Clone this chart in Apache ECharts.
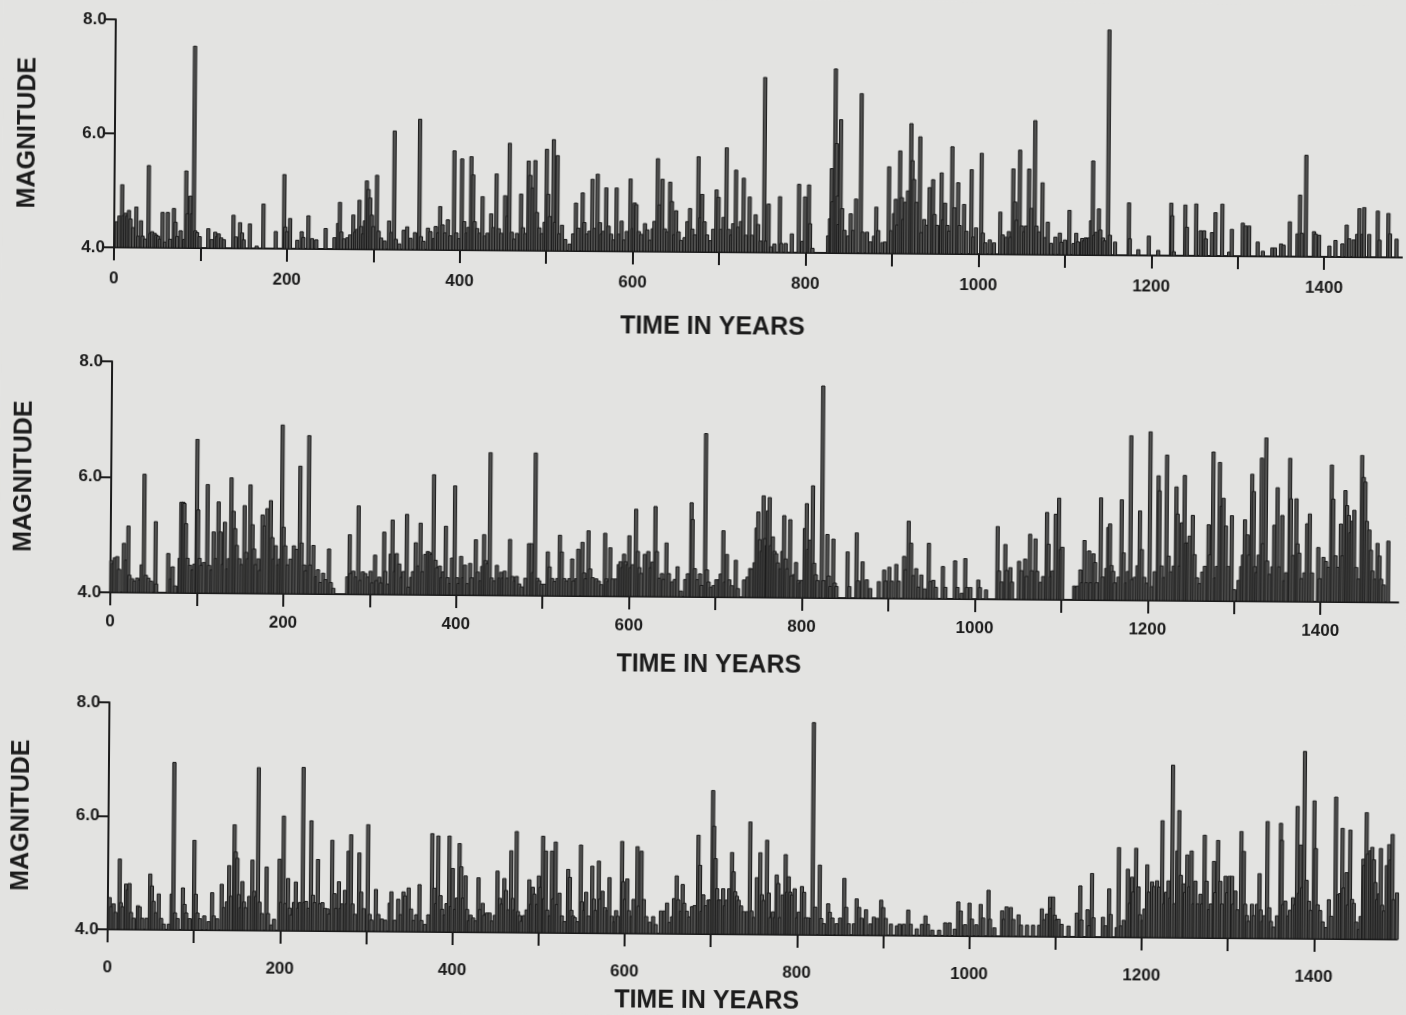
<!DOCTYPE html>
<html>
<head>
<meta charset="utf-8">
<script src="https://cdn.jsdelivr.net/npm/echarts@6/dist/echarts.min.js"></script>
<style>
  html, body { margin: 0; padding: 0; background: #e3e3e1; overflow: hidden; }
  #chart { width: 1406px; height: 1015px; transform: rotate(0.45deg); transform-origin: 50% 50%; }
</style>
</head>
<body>
<div id="chart"></div>
<script>
// Tick positions (years) and magnitude ticks
const xTickValues = [0, 100, 200, 300, 400, 500, 600, 700, 800, 900, 1000, 1100, 1200, 1300, 1400];
const xLabelValues = [0, 200, 400, 600, 800, 1000, 1200, 1400];
const magMin = 4.0;
const magMax = 8.0;
const magStep = 2.0;
const xMax = [1490, 1490, 1496];

// Simulated catalogue 1: [year, magnitude]
const quakesTop = [
  [3,4.45],[6,4.55],[9,5.1],[11,4.56],[13,4.6],[15,4.55],[17,4.65],[19,4.5],[22,4.35],[25.5,4.71],[28,4.2],[31,4.47],[33,4.2],[36,4.15],[39.7,5.44],[42,4.25],[44,4.28],[47,4.25],[49,4.22],[51,4.2],[53,4.15],[56,4.62],[59,4.1],[62,4.62],[65,4.15],[69,4.69],[71,4.45],[73,4.2],[77,4.3],[81,4.15],[83,5.35],[85,4.6],[88,4.91],[90,4.6],[92,7.54],[94,4.3],[96,4.27],[99,4.2],
  [109,4.34],[113,4.15],[117,4.28],[119,4.2],[121,4.25],[124,4.18],[127,4.15],[138,4.58],[141,4.2],[145.6,4.45],[148,4.27],[150,4.15],[157,4.43],[165,4.04],[172.6,4.78],[187,4.3],[196.5,5.3],[198,4.38],[200,4.3],[203.5,4.53],
  [212,4.15],[217,4.3],[219,4.2],[224.7,4.58],[229,4.18],[234,4.16],[244.7,4.36],[255,4.2],[259,4.45],[261,4.82],[263,4.3],[266,4.18],[270,4.2],[273,4.25],[276.6,4.6],[279,4.3],[281,4.35],[283.6,4.86],[286,4.4],[288,4.27],[290,4.5],[292,5.2],[294,5.05],[296,4.9],[298,4.6],[300,4.4],
  [303.7,5.3],[306,4.32],[309,4.2],[313,4.15],[318,4.5],[321,4.3],[323.7,6.08],[326,4.18],[330,4.1],[335,4.34],[339,4.4],[343,4.2],[348,4.3],[353,6.29],[355,4.23],[358,4.15],[363,4.38],[366,4.32],[370,4.2],[372,4.41],[375,4.3],[377,4.76],[380,4.44],[383,4.3],[386,4.53],[389,4.25],[393,5.74],[396,4.3],[399,4.2],
  [402,5.6],[405,4.5],[408,4.3],[410,4.4],[412.7,5.64],[415,5.32],[417,4.5],[420,4.38],[423,4.3],[426,4.94],[429,4.25],[432,4.3],[436,4.64],[439,4.4],[442,5.34],[445,4.38],[448,4.3],[452,4.96],[455,4.6],[457,5.88],[460,4.32],[463,4.2],[466,4.3],[470.5,4.99],[473,4.4],[476,4.3],[479,5.57],[481,5.32],[484,5.1],[486.7,5.58],[489,4.67],[492,4.4],[495,4.3],[498,4.5],
  [500,5.78],[502,4.99],[504,4.6],[507.9,5.95],[510,4.5],[512.5,5.67],[515,4.3],[518,4.45],[522,4.2],[527,4.12],[531,4.3],[534,4.84],[537,4.4],[541.8,5.02],[544,4.5],[547,4.3],[550,4.35],[553,5.26],[556,4.4],[559,5.35],[562,4.5],[564,4.3],[566,4.35],[569,5.11],[572,4.44],[575,4.3],[578,4.2],[581,5.11],[584,4.3],[587,4.53],[590,4.2],[593,4.35],[597,5.27],
  [600,4.4],[602,4.85],[604,4.82],[607,4.35],[610,4.3],[614,4.49],[617,4.38],[620,4.2],[623,4.4],[625,4.53],[628.5,5.63],[631,4.82],[634,5.27],[637,4.4],[640,4.35],[642.8,5.22],[645,4.88],[648,4.3],[650,4.72],[653,4.35],[656,4.2],[660,4.25],[663,4.53],[666,4.76],[669,4.4],[672,4.3],[675.5,5.67],[678,4.6],[680,5.01],[683,4.53],[686,4.3],[690,4.2],[693,4.4],[696.6,5.09],[699,4.96],
  [702,4.4],[705,4.61],[708,5.83],[711,4.4],[714,4.3],[716,4.5],[719,5.44],[722,4.44],[725,4.54],[728,5.3],[731,4.3],[735,4.97],[738,4.3],[742,4.66],[745,4.49],[748,4.2],[751.8,7.07],[754,4.2],[757,4.85],[760,4.1],[764,4.15],[770,4.98],[772,4.16],[777,4.16],[784,4.33],[792,5.2],[796,4.2],[799,4.98],
  [803.5,5.19],[805,4.51],[808,4.08],[826,4.3],[828,4.6],[829.7,5.48],[831,4.9],[833.5,7.23],[835,5.92],[837,5.0],[838,4.5],[840,6.34],[842,4.78],[845,4.4],[849,4.3],[852,4.69],[855,4.4],[858,4.95],[863.6,6.8],[866,4.37],[871,4.37],[875,4.2],[879,4.3],[881.5,4.81],[884,4.4],[889,4.19],[892,4.2],[896,5.52],[899,4.4],
  [902,4.7],[904,4.95],[906,4.5],[908.7,5.8],[911,4.98],[913,4.6],[915,4.9],[918,5.1],[921.4,6.28],[923,5.63],[925,5.3],[928,4.9],[931.8,6.05],[934,4.37],[937,4.6],[940,4.5],[943,5.16],[947,5.3],[949,4.69],[952,4.5],[956.8,5.42],[959,4.6],[961,4.89],[964,4.5],[966,4.4],[969,5.88],[972,4.81],[976,5.25],[978,4.5],[983,4.87],[986,4.4],[991.5,5.48],[994,4.3],[997,4.46],
  [1003,5.77],[1005,4.37],[1008,4.2],[1013,4.25],[1018,4.2],[1025,4.74],[1028,4.34],[1032,4.3],[1035,4.4],[1037,4.3],[1039.7,5.5],[1042,4.92],[1044,4.6],[1047.4,5.83],[1050,4.5],[1053,4.4],[1055,4.5],[1058,5.5],[1061,4.81],[1064.7,6.35],[1067,4.5],[1070,4.4],[1073.6,5.26],[1077,4.3],[1080,4.57],[1084,4.2],[1089,4.31],[1094,4.38],[1096,4.22],
  [1100,4.26],[1105,4.78],[1110,4.2],[1113,4.38],[1115,4.23],[1120,4.29],[1122,4.25],[1124,4.3],[1126,4.29],[1128,4.3],[1130,4.6],[1132,5.65],[1134,4.35],[1136,4.4],[1139,4.81],[1141,4.44],[1144,4.3],[1146,4.25],[1149.6,7.95],[1152,4.35],[1158,4.23],[1173.8,4.92],[1175,4.29],[1185,4.1],[1197,4.34],
  [1208,4.09],[1222.7,4.92],[1224,4.7],[1226,4.07],[1239,4.89],[1241,4.5],[1251.6,4.91],[1257,4.44],[1261,4.44],[1263,4.3],[1270,4.41],[1274,4.76],[1281.8,4.91],[1290,4.07],[1293,4.47],
  [1305.6,4.58],[1309,4.53],[1313,4.53],[1323,4.25],[1329,4.09],[1340,4.15],[1343,4.15],[1350,4.22],[1353,4.2],[1360,4.61],[1369,4.4],[1371.6,5.08],[1374,4.41],[1378.5,5.78],[1388,4.44],[1390,4.4],[1394,4.38],
  [1406,4.19],[1413,4.29],[1421,4.23],[1425.8,4.56],[1429,4.32],[1434,4.3],[1438,4.4],[1440.5,4.85],[1444,4.4],[1446,4.87],[1452,4.4],[1461.7,4.81],[1464,4.3],[1474,4.77],[1476,4.41],[1483.6,4.32]
];

// Simulated catalogue 2
const quakesMiddle = [
  [1,4.55],[3,4.5],[5,4.6],[7.7,4.62],[10,4.4],[15.4,4.85],[18,4.56],[20.4,5.15],[22,4.3],[25,4.24],[28,4.2],[31,4.25],[34,4.22],[36,4.48],[38.6,6.05],[41,4.3],[44,4.25],[47,4.2],[52,5.23],[53,4.15],[66.7,4.68],[70,4.24],[72,4.45],[75,4.12],[80,4.6],[81.5,5.57],[83.7,5.57],[85,5.55],[87,5.2],[89,4.6],[92,4.48],[95,4.4],[97,4.5],[99.5,6.66],
  [101,5.44],[103,4.6],[105,4.48],[108,4.53],[111.8,5.88],[114,4.48],[117,4.4],[119,5.06],[122,4.6],[124.6,5.58],[127,5.06],[130,4.5],[132,5.23],[135,4.42],[137,4.6],[139.3,6.0],[142,5.42],[144,5.12],[146,4.83],[149,4.6],[152,4.5],[154.7,5.52],[157,4.71],[159,4.6],[161.3,5.88],[164,5.19],[166,4.77],[168,4.5],[171,4.6],[173,4.4],[175.5,5.36],[178,5.17],[181,5.47],[185,5.61],[187,4.97],[189,4.6],[191,4.83],[194,4.5],[196,4.6],[198,6.92],
  [200,5.15],[202,4.83],[205,4.5],[208,4.6],[212,4.83],[215,4.77],[218.8,6.21],[221,4.88],[224,4.5],[226,4.4],[228.8,6.74],[231,4.5],[234.5,4.84],[238,4.3],[240,4.42],[243,4.2],[246,4.36],[249,4.25],[252.7,4.78],[255,4.2],[258,4.1],[274,4.3],[276.6,5.03],[278,4.36],[281,4.4],[284,4.3],[286.6,5.53],[289,4.24],[292,4.39],[295,4.36],[298,4.3],
  [301,4.4],[303,4.2],[306,4.68],[308,4.24],[311,4.3],[313,4.2],[316.4,5.08],[318,4.4],[321,4.18],[324,4.7],[326,5.29],[329,4.4],[331,4.71],[334,4.53],[337,4.3],[339,4.4],[342.6,5.39],[345,4.13],[348,4.3],[350,4.4],[353,4.9],[356,4.5],[358.4,5.24],[361,4.4],[364,4.7],[367,4.75],[369,4.73],[371,4.7],[373.5,6.08],[376,4.6],[378,4.47],[381,4.5],[383,4.3],[385,4.4],[387.7,5.19],[390,4.3],[393,4.2],[395,4.64],[398,5.89],
  [401,4.3],[403,4.2],[405.5,4.67],[408,4.3],[410,4.52],[413,4.2],[416,4.55],[418,4.3],[422.5,4.96],[425,4.4],[428,4.25],[430,4.5],[432,5.05],[434,4.6],[436,4.55],[438.7,6.47],[441,4.3],[444,4.25],[447,4.52],[450,4.3],[452,4.4],[454,4.3],[456,4.42],[459,4.3],[462,4.97],[465,4.33],[468,4.25],[470,4.33],[473,4.2],[476,4.15],[480,4.3],[484,4.9],[487,4.9],[489,4.4],[491,6.47],[494,4.3],[496,4.26],[499,4.2],
  [502,4.2],[505.8,4.76],[508,4.5],[511,4.3],[514,4.25],[517,4.3],[519.7,5.05],[522,4.76],[525,4.3],[528,4.26],[531,4.3],[534,4.64],[536,4.26],[539,4.3],[541,4.81],[545.8,4.93],[548,4.4],[550,4.3],[552.7,5.13],[555,4.47],[558,4.32],[562,4.3],[565,4.26],[568,4.2],[572,5.09],[574,4.3],[576,4.26],[578,4.84],[581,4.3],[585,4.3],[588,4.55],[590,4.6],[592,4.5],[594,4.73],[596,4.6],[598,4.55],
  [600,5.05],[602,4.5],[604,4.55],[607.6,5.51],[610,4.78],[612,4.5],[614,4.4],[618,4.73],[622,4.78],[625,4.5],[627,4.6],[630,5.56],[632,4.78],[635,4.32],[638,4.4],[640,4.3],[643,4.93],[646,4.4],[650,4.26],[653,4.3],[656,4.52],[660,4.1],[665,4.3],[668,4.4],[671.7,5.63],[673,5.34],[676,4.49],[679,4.3],[682,4.4],[684,4.2],[687.8,6.83],[690,4.47],[692,4.26],[695,4.17],[698,4.2],
  [701,4.3],[704,4.3],[706,4.4],[708.7,5.15],[711,4.26],[713,4.74],[716,4.3],[719,4.2],[723.4,4.64],[726,4.15],[733,4.3],[737,4.35],[740,4.5],[742,4.49],[745,4.6],[747,5.2],[749,5.48],[751,5.0],[753,4.8],[755,5.76],[757,5.02],[759,4.9],[760,5.5],[762,5.73],[764,4.9],[766,5.05],[768,4.8],[770,4.76],[772,4.6],[775,4.5],[777,4.8],[779,5.42],[781,4.67],[783,4.5],[786,5.35],[788,4.38],[791,4.4],[793,4.61],[796,4.3],[798,4.26],
  [800,4.3],[803,5.2],[805,5.63],[807,4.84],[809,5.0],[812,5.94],[814,4.6],[816,4.4],[818,4.3],[822.9,7.67],[825,4.3],[829,5.1],[831,4.38],[833,4.2],[836,5.02],[838,4.26],[840,4.2],[852.6,4.8],[855,4.2],[863,5.13],[865,4.3],[870,4.63],[875,4.32],[879,4.17],[889,4.29],[895,4.49],[897,4.3],
  [901,4.54],[904,4.3],[909,4.59],[912,4.3],[918,4.73],[920,4.5],[923,5.34],[926,4.96],[929,4.4],[932,4.52],[935,4.2],[938,4.41],[942,4.17],[946.6,4.96],[949,4.3],[952,4.32],[955,4.2],[963,4.56],[966,4.2],[977,4.66],[980,4.2],[985,4.1],[988.8,4.7],[991,4.2],[995,4.2],
  [1004,4.33],[1006,4.2],[1013,4.16],[1026,5.26],[1028,4.49],[1031,4.3],[1035,4.95],[1037,4.5],[1041,4.55],[1043,4.3],[1051,4.66],[1054,4.5],[1058,4.7],[1060,4.4],[1063.6,5.13],[1066,4.5],[1069.8,5.05],[1072,4.49],[1076,4.3],[1079,4.4],[1083,5.51],[1085,4.96],[1088,4.4],[1090,4.5],[1093,5.48],[1096.8,5.76],[1099,4.87],
  [1101,4.91],[1115,4.24],[1117,4.22],[1119,4.24],[1122,4.52],[1124,4.3],[1126.5,5.03],[1129,4.3],[1132,4.85],[1134,4.3],[1137,4.8],[1139,4.65],[1141,4.3],[1145.3,5.77],[1148,4.4],[1152,4.55],[1154,5.26],[1156,5.32],[1158,4.6],[1160,4.5],[1162,4.3],[1166,4.4],[1169.3,5.74],[1172,4.82],[1175,4.3],[1177,4.5],[1179.7,6.85],[1182,4.36],[1185,4.4],[1188,4.6],[1190.5,5.55],[1193,4.88],[1196,4.4],[1199,4.3],
  [1202,6.92],[1205,4.24],[1208,4.5],[1211.7,6.16],[1213,5.9],[1216,4.6],[1219,4.4],[1221.3,6.52],[1224,4.77],[1227,4.5],[1230,4.6],[1232.5,5.97],[1234,5.5],[1237,4.6],[1239,5.35],[1242,6.17],[1244,5.0],[1246,5.0],[1248,5.12],[1251.6,5.48],[1254,4.8],[1257,4.4],[1260,4.3],[1263,4.5],[1266,4.6],[1270,5.32],[1272,4.8],[1275,6.58],[1278,4.4],[1280,4.6],[1282.5,6.4],[1285,5.64],[1287,5.78],[1290,5.3],[1293,4.6],[1296.8,5.48],
  [1300,4.2],[1305,4.36],[1308,4.6],[1310,4.8],[1312,5.41],[1315,5.15],[1317,4.8],[1320,6.2],[1322,5.9],[1324,4.6],[1326,4.5],[1328,4.8],[1331,6.48],[1333,5.0],[1336,6.83],[1338,4.7],[1341,4.47],[1344,4.6],[1346,5.32],[1349.5,5.97],[1352,4.6],[1355.2,5.49],[1358,4.36],[1360,4.5],[1363.7,6.48],[1365,5.78],[1368,4.8],[1371.4,5.78],[1373,5.0],[1375,4.84],[1378,4.4],[1381,4.5],[1384,5.35],[1387,5.52],[1390,4.5],[1397,4.94],[1399,4.4],
  [1403,4.77],[1406,4.7],[1409,4.6],[1412,6.37],[1414,5.78],[1417,4.8],[1420,4.6],[1423,5.35],[1425,4.8],[1428,5.93],[1430,5.67],[1432,5.5],[1434,5.2],[1436,5.4],[1438.4,5.59],[1441,4.6],[1444,4.4],[1447,6.54],[1449,6.16],[1451,6.08],[1453,5.4],[1456,5.25],[1458,4.9],[1460,4.54],[1463,4.4],[1465.5,5.02],[1468,4.8],[1470,4.4],[1473,4.3],[1478,5.06]
];

// Simulated catalogue 3
const quakesBottom = [
  [2,4.56],[4,4.4],[6.6,4.45],[9,4.3],[13.5,5.24],[15,4.47],[17,4.4],[21,4.8],[23,4.7],[25,4.81],[27,4.3],[30,4.2],[35,4.42],[37,4.4],[40,4.2],[45,4.2],[49,4.98],[51,4.77],[53,4.5],[56,4.3],[59,4.63],[62,4.2],[65,4.1],[71,4.1],[74,4.63],[76,6.95],[78,4.3],[81,4.2],[87,4.74],[89,4.45],[91,4.3],[95,4.2],
  [100,5.58],[102,4.63],[104,4.3],[107,4.2],[112,4.25],[117,4.15],[121,4.66],[123,4.25],[127,4.2],[132,4.81],[135,4.4],[138,4.5],[140.6,5.14],[143,4.6],[146.5,5.86],[148,5.38],[150,5.27],[152,4.63],[154,4.4],[156,4.86],[158,4.5],[160,4.4],[164,4.6],[167.5,5.24],[170,4.69],[172,4.6],[174,6.87],[176,4.5],[179,4.3],[184,5.12],[186,4.3],[190,4.1],[193,4.2],[199,5.26],
  [201,4.5],[203.6,6.02],[206,4.48],[209,4.92],[211,4.4],[213,4.28],[216,4.5],[218,4.86],[221,4.4],[223,4.5],[226,6.88],[228,4.5],[230,4.52],[233,4.4],[235.6,5.94],[238,4.63],[240,4.5],[243.5,5.26],[246,4.48],[249,4.5],[252,4.4],[255,4.39],[257,4.3],[260,5.6],[263,4.66],[265,4.4],[268,4.87],[270,4.4],[272,4.48],[275,4.72],[277,4.48],[279,5.41],[281.8,5.7],[284,4.48],[287,4.3],[291.5,5.38],[294,4.69],[297,4.4],
  [301.5,5.88],[304,4.3],[306,4.2],[311,4.74],[314,4.3],[318,4.22],[322,4.2],[327,4.5],[329,4.7],[333,4.2],[337,4.57],[340,4.3],[343,4.7],[345,4.63],[349,4.77],[352,4.4],[355,4.2],[358,4.3],[361.6,4.83],[364,4.2],[368,4.13],[372,4.3],[376,5.73],[379,4.77],[381,4.5],[383,5.69],[386,4.64],[388,4.4],[391,4.3],[393,4.5],[396,5.69],[398,4.45],
  [400,5.12],[403,4.4],[405,4.6],[407.8,5.56],[410,5.15],[412,4.6],[415,4.99],[417,4.4],[419,4.2],[421,4.3],[424,4.25],[427,4.2],[430,4.96],[432,4.4],[435,4.51],[437,4.3],[440,4.34],[443,4.34],[446,4.2],[449,4.3],[452,5.08],[455,4.6],[457,4.5],[460,4.95],[462,4.74],[465,4.4],[467.8,5.44],[470,4.6],[472,4.4],[474,5.78],[476,4.37],[478,4.3],[480,4.2],[483,4.3],[486,4.4],[489,4.93],[491,4.5],[493,4.8],[495,4.68],[498,4.5],
  [500,5.0],[502,4.8],[504.6,5.7],[506,4.6],[508,5.44],[510,4.4],[513,4.3],[515,5.44],[517,4.6],[519.3,5.6],[521,4.5],[524,4.7],[527,4.3],[530,4.2],[534,5.12],[536,4.98],[538,4.4],[540,4.3],[542,4.27],[545,4.2],[548.6,5.55],[550,4.55],[553,4.4],[555,4.72],[558,4.3],[562,5.18],[564,4.6],[566,4.4],[569.5,5.27],[571,4.6],[574,4.74],[577,4.45],[580,4.4],[582,4.98],[585,4.3],[588,4.2],[590,4.4],[592,4.3],[596.4,5.62],[598,4.91],
  [600,4.6],[602.7,4.96],[605,4.4],[608,4.3],[610,4.6],[614.3,5.53],[616,4.48],[619,5.45],[622,4.6],[625,4.3],[629,4.2],[633,4.3],[636,4.16],[642,4.4],[646,4.4],[649,4.54],[652,4.2],[655,4.3],[657,4.62],[660,5.02],[662,4.6],[665,4.4],[667,4.87],[669,4.54],[672,4.4],[675,4.3],[678,4.48],[681,4.5],[684.9,5.74],[687,5.21],[689,4.4],[691,4.69],[694,4.5],[697,4.6],[699,4.6],
  [701.5,6.53],[703,5.9],[705,5.33],[707,4.8],[709,4.6],[711,4.6],[714,4.8],[716,4.5],[718,4.6],[721,4.8],[724,5.44],[726,5.1],[728,4.75],[730,4.67],[732,4.6],[735,4.5],[738,4.4],[742,4.4],[745,5.98],[747,4.41],[750,4.3],[753,5.0],[756.9,5.44],[759,4.7],[761,4.6],[764.6,5.66],[767,4.73],[769,4.3],[772,4.4],[774,4.3],[776,5.05],[778,4.9],[780,4.3],[783,4.7],[786.3,5.41],[788,4.75],[790,5.02],[792,4.75],[794,4.7],[797,4.81],
  [800,4.3],[802,4.4],[805.4,4.85],[808,4.75],[810,4.3],[813,4.3],[816,4.29],[817.8,7.74],[821,4.49],[826,5.23],[828,4.29],[831,4.2],[836,4.55],[838,4.4],[841,4.3],[846,4.2],[850,4.3],[854.6,5.0],[857,4.49],[860,4.2],[866,4.2],[869,4.64],[872,4.49],[875,4.3],[880,4.45],[885,4.2],[889,4.32],[893,4.3],[897.5,4.62],
  [900,4.49],[903,4.3],[909,4.2],[916,4.17],[919,4.2],[924,4.2],[929,4.45],[932,4.2],[939,4.12],[945,4.2],[949,4.35],[952,4.2],[957,4.1],[965,4.1],[972,4.23],[977,4.23],[983,4.12],[987,4.6],[990,4.44],[995,4.2],
  [1000,4.58],[1003,4.3],[1008,4.2],[1013,4.56],[1016,4.32],[1022,4.81],[1024,4.3],[1029,4.15],[1038,4.45],[1040,4.3],[1043,4.52],[1048,4.51],[1051,4.3],[1057,4.38],[1060,4.2],[1067,4.2],[1074,4.2],[1081,4.2],[1084,4.49],[1087,4.3],[1090,4.4],[1093.5,4.7],[1095,4.5],[1097,4.7],[1099,4.38],
  [1101,4.3],[1103.4,4.31],[1107,4.22],[1115,4.19],[1124.6,4.42],[1128.5,4.9],[1130,4.3],[1137,4.48],[1139,4.2],[1142,5.12],[1144,4.34],[1155,4.35],[1158,4.2],[1162,4.85],[1164,4.4],[1171,4.17],[1173,5.58],[1176,4.2],[1179,4.3],[1183.5,5.2],[1186,4.6],[1188.5,5.06],[1190,4.8],[1193,5.57],[1196,4.89],[1198,4.4],
  [1201,4.3],[1203,4.5],[1206,5.28],[1208,4.8],[1211.7,4.98],[1214,4.9],[1217.5,5.0],[1220,4.89],[1223.3,6.06],[1226,4.6],[1228,4.8],[1230.8,5.0],[1233,4.7],[1235,7.04],[1238,4.6],[1240.8,5.53],[1242.7,6.24],[1245,5.1],[1248.5,4.95],[1250,4.8],[1252.4,5.46],[1255,4.9],[1257.4,5.53],[1260,4.6],[1262,5.0],[1265,4.6],[1268,4.77],[1270,4.6],[1272.5,5.81],[1275,5.0],[1278,4.5],[1280,4.6],[1283.4,5.35],[1285,4.8],[1288,5.72],[1291,5.0],[1293,4.6],[1297,5.09],[1299,4.8],
  [1301.5,5.09],[1304.6,5.09],[1306,4.6],[1308.5,4.83],[1311,4.5],[1315,5.88],[1318,5.53],[1320,4.6],[1322,4.4],[1324,4.3],[1327.8,4.6],[1330,4.4],[1333.6,4.6],[1336.4,5.14],[1338,4.5],[1340,4.3],[1342,4.4],[1345.3,6.06],[1348,4.54],[1350,4.3],[1353,4.2],[1357,4.4],[1360.8,6.03],[1362,5.73],[1364,4.6],[1366.5,4.66],[1370,4.4],[1372,4.5],[1375.4,4.72],[1378,4.6],[1380,6.33],[1382,4.8],[1384,5.65],[1386,4.9],[1388,7.3],[1391,5.03],[1394,4.66],[1396,4.5],[1399.5,6.43],
  [1401.5,5.59],[1404,4.6],[1407,4.5],[1410,4.3],[1414,4.2],[1417,4.69],[1420,4.4],[1424.6,6.5],[1427.7,4.78],[1430,4.8],[1432.4,5.95],[1434,4.9],[1437.4,5.17],[1439,4.6],[1441.4,5.92],[1444,4.7],[1446,4.63],[1449,4.3],[1452,4.17],[1454,4.4],[1456.8,5.41],[1458,5.3],[1460.3,6.23],[1462,5.5],[1465,5.56],[1467,5.62],[1469,5.4],[1471,5.0],[1473,4.7],[1475,4.8],[1477,5.6],[1479,4.6],[1481,4.5],[1484,5.3],[1486.6,5.67],[1488.5,5.4],[1490.5,5.85],[1492,4.7],[1496,4.82]
];

const catalogues = [quakesTop, quakesMiddle, quakesBottom];

const ink = '#1c1c1c';
const fontFamily = '"Liberation Sans", Arial, sans-serif';

// Panel frames in page pixels, plus per-panel label offsets
const panels = [
  { left: 112, top: 24, height: 228, width: 1288, labelMargin: 23, titleGap: 63 },
  { left: 111, top: 366, height: 231, width: 1288, labelMargin: 21, titleGap: 56 },
  { left: 111, top: 707, height: 229, width: 1289, labelMargin: 30, titleGap: 55 }
];

// Each event is a thin vertical bar rising from the M4.0 baseline
function renderSpike(params, api) {
  const year = api.value(0);
  const mag = api.value(1);
  const topPt = api.coord([year, mag]);
  const basePt = api.coord([year, magMin]);
  const w = 3.2;
  return {
    type: 'rect',
    shape: { x: topPt[0] - w / 2, y: topPt[1], width: w, height: basePt[1] - topPt[1] },
    style: { fill: '#525251', stroke: '#1a1a1a', lineWidth: 1 }
  };
}

const chart = echarts.init(document.getElementById('chart'), null, { renderer: 'canvas' });

const option = {
  backgroundColor: '#e3e3e1',
  animation: false,
  grid: panels.map(p => ({ left: p.left, top: p.top, width: p.width, height: p.height, containLabel: false })),
  xAxis: panels.map((p, i) => ({
    gridIndex: i,
    type: 'value',
    min: 0,
    max: xMax[i],
    splitLine: { show: false },
    axisLine: { show: true, onZero: false, lineStyle: { color: ink, width: 2 } },
    axisTick: { show: true, customValues: xTickValues, length: 13, lineStyle: { color: ink, width: 2 } },
    axisLabel: {
      customValues: xLabelValues, margin: p.labelMargin, fontSize: 17, fontWeight: 'bold',
      color: ink, fontFamily: fontFamily,
      formatter: v => String(v)
    },
    name: 'TIME IN YEARS',
    nameLocation: 'middle',
    nameGap: p.titleGap,
    nameTextStyle: {
      fontSize: 25, fontWeight: 'bold', color: ink, fontFamily: fontFamily,
      padding: [0, 90, 0, 0]
    }
  })),
  yAxis: panels.map((p, i) => ({
    gridIndex: i,
    type: 'value',
    min: magMin,
    max: magMax,
    interval: magStep,
    splitLine: { show: false },
    axisLine: { show: true, onZero: false, lineStyle: { color: ink, width: 2 } },
    axisTick: { show: true, length: 11, lineStyle: { color: ink, width: 2 } },
    axisLabel: {
      margin: 9, fontSize: 17, fontWeight: 'bold', color: ink, fontFamily: fontFamily,
      formatter: v => v.toFixed(1)
    },
    name: 'MAGNITUDE',
    nameLocation: 'middle',
    nameGap: 74,
    nameTextStyle: { fontSize: 25, fontWeight: 'bold', color: ink, fontFamily: fontFamily }
  })),
  series: catalogues.map((data, i) => ({
    type: 'custom',
    xAxisIndex: i,
    yAxisIndex: i,
    renderItem: renderSpike,
    encode: { x: 0, y: 1 },
    data: data,
    z: 3
  }))
};

chart.setOption(option);
</script>
</body>
</html>
